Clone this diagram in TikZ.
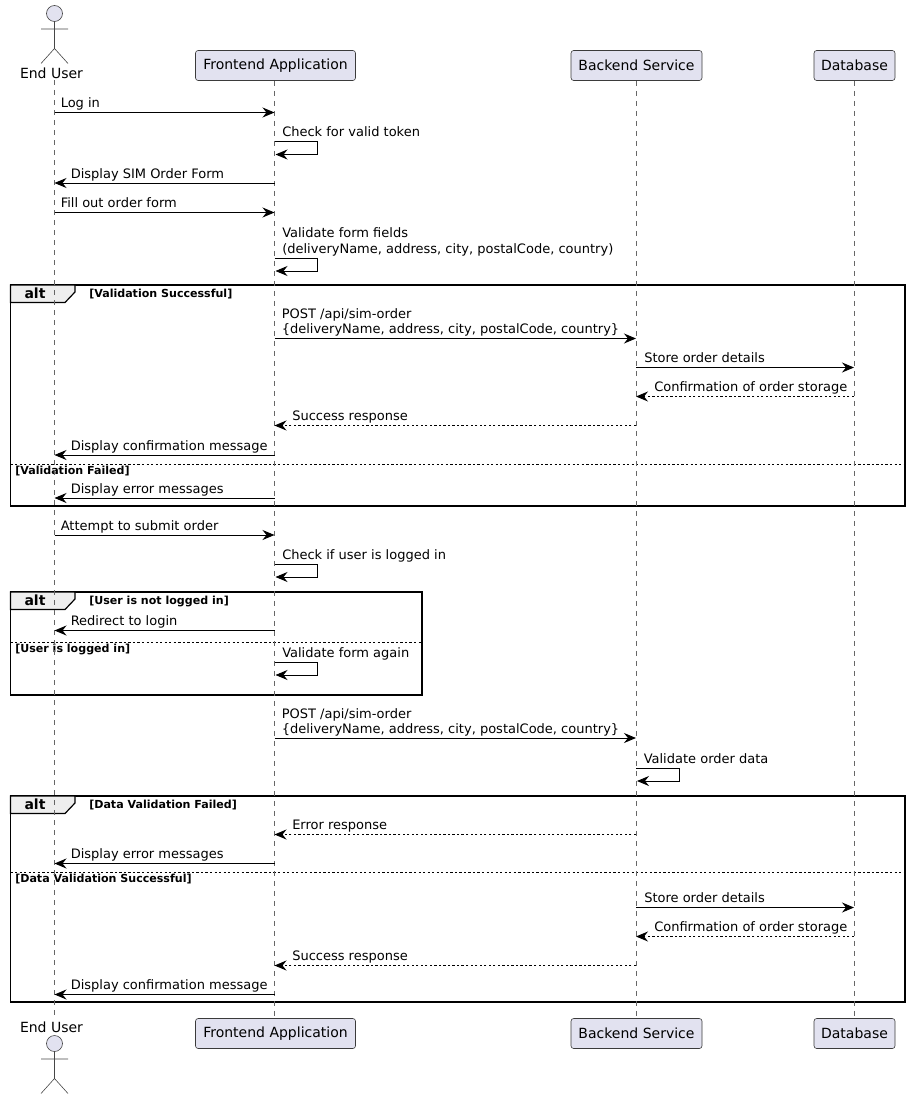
\documentclass[tikz,border=0pt]{standalone}
\usepackage{fontspec}
\setmainfont{DejaVu Sans}
\usetikzlibrary{arrows.meta}
\definecolor{headfill}{HTML}{E2E2F0}
\definecolor{headline}{HTML}{181818}
\definecolor{tabfill}{HTML}{EEEEEE}
\tikzstyle{head} = [draw=headline!85,line width=0.45pt,fill=headfill,rounded corners=2pt,minimum height=22.5pt,inner sep=0pt,font=\fontsize{10.5}{12}\selectfont]
\tikzstyle{actorlabel} = [inner sep=0pt,font=\fontsize{10.5}{12}\selectfont]
\tikzstyle{actorline} = [draw=headline!80,line width=0.45pt]
\tikzstyle{lifeline} = [draw=black!60,line width=0.45pt,dash pattern=on 3.75pt off 3.75pt]
\tikzstyle{msgsolid} = [draw=black,line width=0.7pt,-{Stealth[length=9pt,width=7.5pt,inset=3pt]}]
\tikzstyle{msgdash} = [msgsolid,dash pattern=on 1.7pt off 1.7pt]
\tikzstyle{msglabel} = [anchor=base west,inner sep=0pt,align=left,font=\fontsize{9.75}{11.4}\selectfont]
\tikzstyle{altframe} = [draw=black,line width=1.2pt]
\tikzstyle{alttab} = [altframe,line width=0.9pt,fill=tabfill]
\tikzstyle{altdivider} = [draw=black,line width=0.6pt,dash pattern=on 1.7pt off 1.7pt]
\tikzstyle{alttitle} = [inner sep=0pt,font=\fontsize{10.5}{12}\selectfont\bfseries]
\tikzstyle{guard} = [anchor=base west,inner sep=0pt,font=\fontsize{8.3}{10}\selectfont\bfseries]

\begin{document}
\begin{tikzpicture}[x=0.75pt,y=-0.75pt]
    \useasboundingbox (0,0) rectangle (911,1099);

    %frames
    \foreach \framename/\xright/\ytop/\ybottom/\guardtext in {
      one/905/285/506/Validation Successful,
      two/422/592/695/User is not logged in,
      three/905/796/1002/Data Validation Failed}
    {
      \draw[altframe] (10.5,\ytop) rectangle (\xright,\ybottom);
      \draw[alttab] (10.5,\ytop) -- (75,\ytop) -- (75,\ytop+7) -- (65,\ytop+17.5) -- (10.5,\ytop+17.5) -- cycle;
      \node[alttitle] (\framename-title) at (35,\ytop+8) {alt};
      \node[guard] (\framename-guard) at (89,\ytop+12) {[\guardtext]};
    }
    \foreach \dividername/\xright/\y/\guardtext in {
      one/905/464/Validation Failed,
      two/422/642/User is logged in,
      three/905/872/Data Validation Successful}
    {
      \draw[altdivider] (10.5,\y) -- (\xright,\y);
      \node[guard] (\dividername-else) at (15,\y+10) {[\guardtext]};
    }

    %heads, top and bottom
    \foreach \nodename/\value/\x/\w in {
      front/Frontend Application/275.5/120pt,
      back/Backend Service/636.5/98.25pt,
      db/Database/854.5/60.75pt}
    {
      \node[head, minimum width=\w] (\nodename) at (\x,65.5) {\value};
      \node[head, minimum width=\w] (\nodename-foot) at (\x,1033.5) {\value};
    }
    \coordinate (user) at (54.5,80);
    \coordinate (user-foot) at (54.5,1018);
    \node[actorlabel] (user-label) at (51.5,73) {End User};
    \node[actorlabel] (user-footlabel) at (51.5,1027) {End User};
    \foreach \actorname/\y in {top/13.5, bottom/1043.5}
    {
      \draw[actorline,fill=headfill] (54.5,\y) circle (8);
      \draw[actorline] (54.5,\y+8) -- (54.5,\y+35) (41,\y+15.5) -- (68,\y+15.5)
        (41,\y+50) -- (54.5,\y+35) -- (68,\y+50);
    }

    %lifelines
    \draw[lifeline] (user) -- (user-foot);
    \draw[lifeline] (front.south -| 274.5,0) -- (front-foot.north -| 274.5,0);
    \draw[lifeline] (back.south -| 636,0) -- (back-foot.north -| 636,0);
    \draw[lifeline] (db.south -| 854,0) -- (db-foot.north -| 854,0);
    \coordinate (f) at (274.5,0);
    \coordinate (b) at (636,0);
    \coordinate (d) at (854,0);
    \coordinate (u) at (54.5,0);

    %messages between lifelines
    \foreach \startnode/\endnode/\labelnode/\offset/\y/\edgestyle/\txt [count=\i] in {
      u/f/u/6/112.5/msgsolid/{Log in},
      f/u/u/16/183/msgsolid/{Display SIM Order Form},
      u/f/u/6/212.5/msgsolid/{Fill out order form},
      f/b/f/7/338.5/msgsolid/{POST /api/sim-order\\\{deliveryName, address, city, postalCode, country\}},
      b/d/b/8/367.5/msgsolid/{Store order details},
      d/b/b/18/396.5/msgdash/{Confirmation of order storage},
      b/f/f/17.5/425.5/msgdash/{Success response},
      f/u/u/16/455/msgsolid/{Display confirmation message},
      f/u/u/16/498/msgsolid/{Display error messages},
      u/f/u/6/535/msgsolid/{Attempt to submit order},
      f/u/u/16/630.5/msgsolid/{Redirect to login},
      f/b/f/7/738/msgsolid/{POST /api/sim-order\\\{deliveryName, address, city, postalCode, country\}},
      b/f/f/17.5/834.5/msgdash/{Error response},
      f/u/u/16/863.5/msgsolid/{Display error messages},
      b/d/b/8/907.5/msgsolid/{Store order details},
      d/b/b/18/936.5/msgdash/{Confirmation of order storage},
      b/f/f/17.5/965.5/msgdash/{Success response},
      f/u/u/16/994.5/msgsolid/{Display confirmation message}}
    {
      \draw[\edgestyle] (\startnode |- 0,\y) -- (\endnode |- 0,\y);
      \path (\labelnode |- 0,\y) ++(\offset,-4.8) node[msglabel] (msg\i) {\txt};
    }

    %self messages
    \foreach \selfnode/\y/\txt [count=\i] in {
      f/141.5/{Check for valid token},
      f/258/{Validate form fields\\(deliveryName, address, city, postalCode, country)},
      f/564/{Check if user is logged in},
      f/662/{Validate form again},
      b/768/{Validate order data}}
    {
      \draw[msgsolid] (\selfnode |- 0,\y) -- ++(43,0) -- ++(0,13) -- ++(-42,0);
      \path (\selfnode |- 0,\y) ++(7.5,-5) node[msglabel] (self\i) {\txt};
    }
\end{tikzpicture}
\end{document}
